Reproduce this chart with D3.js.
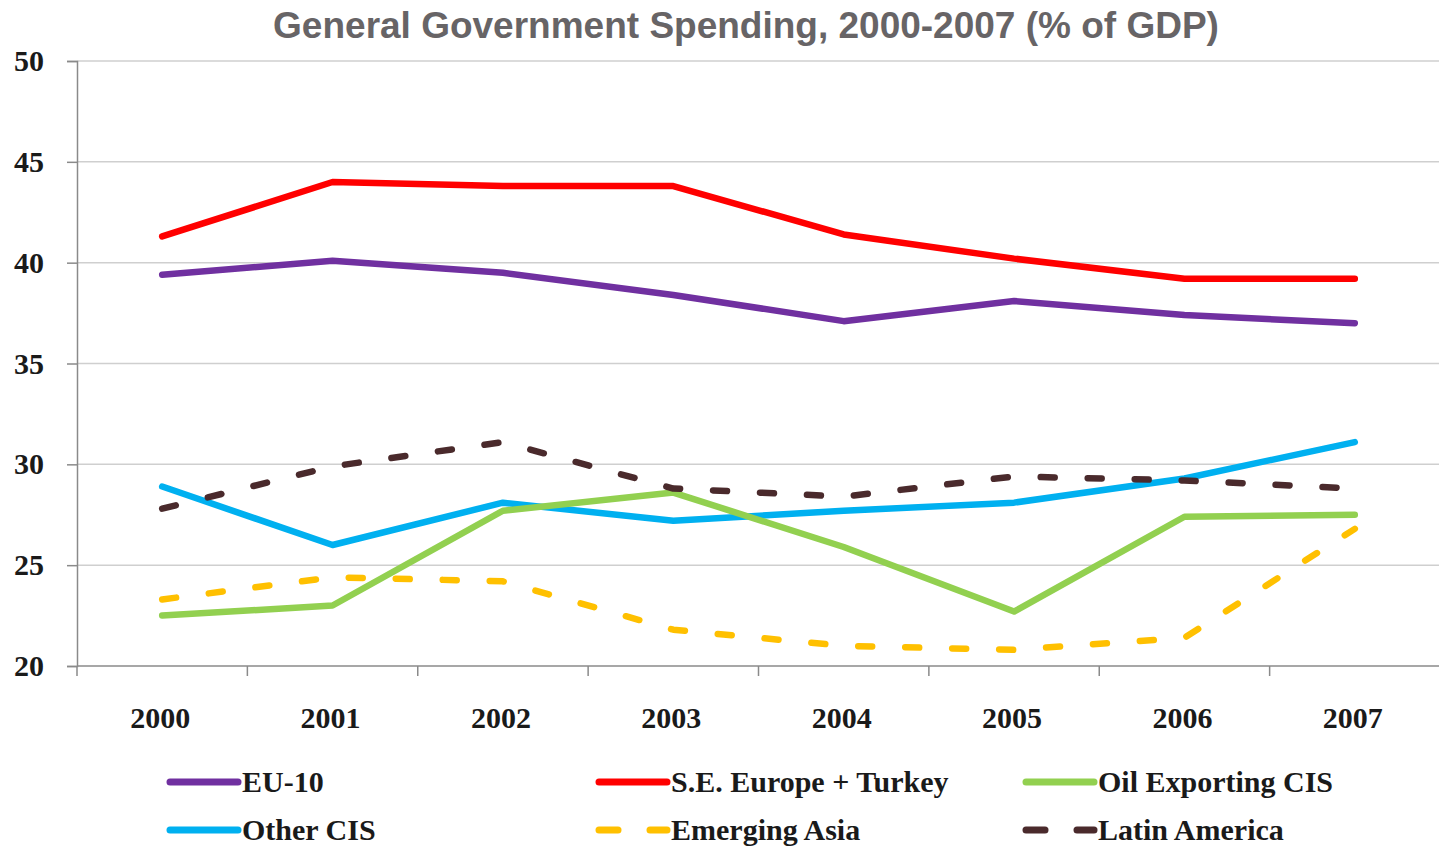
<!DOCTYPE html>
<html>
<head>
<meta charset="utf-8">
<script src="https://cdn.jsdelivr.net/npm/d3@7"></script>
<style>
  html, body { margin: 0; padding: 0; background: #fff; }
  svg { display: block; }
</style>
</head>
<body>
<svg id="chart" width="1439" height="848"></svg>
<script>
// General government spending, % of GDP
const years = ["2000", "2001", "2002", "2003", "2004", "2005", "2006", "2007"];
const yTicks = [20, 25, 30, 35, 40, 45, 50];

const eu10 = [39.4, 40.1, 39.5, 38.4, 37.1, 38.1, 37.4, 37.0];
const seEurope = [41.3, 44.0, 43.8, 43.8, 41.4, 40.2, 39.2, 39.2];
const oilCis = [22.5, 23.0, 27.7, 28.6, 25.9, 22.7, 27.4, 27.5];
const otherCis = [28.9, 26.0, 28.1, 27.2, 27.7, 28.1, 29.3, 31.1];
const emergingAsia = [23.3, 24.4, 24.2, 21.8, 21.0, 20.8, 21.4, 26.8];
const latinAmerica = [27.8, 29.9, 31.1, 28.8, 28.4, 29.4, 29.2, 28.8];

const seriesNames = ["EU-10", "S.E. Europe + Turkey", "Oil Exporting CIS",
                     "Other CIS", "Emerging Asia", "Latin America"];
const seriesValues = [eu10, seEurope, oilCis, otherCis, emergingAsia, latinAmerica];

const styles = [
  { color: "#7030A0", dash: null },
  { color: "#FF0000", dash: null },
  { color: "#92D050", dash: null },
  { color: "#00B0F0", dash: null },
  { color: "#FFC000", dash: "14,33" },
  { color: "#4A2A2C", dash: "14,33" }
];

const svg = d3.select("#chart");
const serif = "'Liberation Serif', 'DejaVu Serif', serif";

const plotLeft = 77, plotRight = 1440, plotTop = 61, plotBottom = 666;

const x = d3.scaleBand().domain(years).range([plotLeft, plotRight]);
const y = d3.scaleLinear().domain([20, 50]).range([plotBottom, plotTop]);

// Title
svg.append("text")
  .attr("x", 746).attr("y", 38)
  .attr("text-anchor", "middle")
  .attr("font-family", "'Liberation Sans', Arial, sans-serif")
  .attr("font-weight", "bold")
  .attr("font-size", 37)
  .attr("fill", "#676466")
  .text("General Government Spending, 2000-2007 (% of GDP)");

// Horizontal gridlines
svg.append("g")
  .selectAll("line")
  .data(yTicks.filter(d => d > 20))
  .join("line")
  .attr("x1", plotLeft).attr("x2", plotRight)
  .attr("y1", d => y(d)).attr("y2", d => y(d))
  .attr("stroke", "#cfcfcf")
  .attr("stroke-width", 1.5);

// Y axis
const yAxis = svg.append("g")
  .attr("transform", `translate(${plotLeft},0)`)
  .call(d3.axisLeft(y).tickValues(yTicks).tickSize(10).tickPadding(23));
yAxis.select(".domain").attr("stroke", "#8a8a8a").attr("stroke-width", 1.5);
yAxis.selectAll(".tick line").attr("stroke", "#8a8a8a").attr("stroke-width", 1.5);
yAxis.selectAll(".tick text")
  .attr("font-family", serif)
  .attr("font-weight", "bold")
  .attr("font-size", 30)
  .attr("fill", "#1a1a1a");

// X axis with ticks at band boundaries
const xAxis = svg.append("g")
  .attr("transform", `translate(0,${plotBottom})`);
xAxis.append("line")
  .attr("x1", plotLeft).attr("x2", plotRight)
  .attr("stroke", "#8a8a8a").attr("stroke-width", 1.5);
const bounds = years.map(d => x(d)).concat([plotRight]);
xAxis.selectAll("line.tk")
  .data(bounds)
  .join("line")
  .attr("class", "tk")
  .attr("x1", d => d).attr("x2", d => d)
  .attr("y1", 0).attr("y2", 10)
  .attr("stroke", "#8a8a8a").attr("stroke-width", 1.5);
xAxis.selectAll("text")
  .data(years)
  .join("text")
  .attr("x", d => x(d) + x.bandwidth() / 2 - 2)
  .attr("y", 62)
  .attr("text-anchor", "middle")
  .attr("font-family", serif)
  .attr("font-weight", "bold")
  .attr("font-size", 30)
  .attr("fill", "#1a1a1a")
  .text(d => d);

// Series lines
const line = d3.line()
  .x((d, i) => x(years[i]) + x.bandwidth() / 2)
  .y(d => y(d));

const order = [3, 2, 4, 5, 0, 1];
svg.append("g")
  .selectAll("path")
  .data(order)
  .join("path")
  .attr("d", i => line(seriesValues[i]))
  .attr("fill", "none")
  .attr("stroke", i => styles[i].color)
  .attr("stroke-width", 6.5)
  .attr("stroke-linecap", "round")
  .attr("stroke-linejoin", "round")
  .attr("stroke-dasharray", i => styles[i].dash);

// Legend
const legendCols = [167, 596, 1023];
const legendRows = [782, 830];
const legend = svg.append("g");
seriesNames.forEach((name, i) => {
  const cx = legendCols[i % 3];
  const cy = legendRows[Math.floor(i / 3)];
  const s = styles[i];
  if (s.dash) {
    legend.append("line")
      .attr("x1", cx + 3).attr("x2", cx + 22)
      .attr("y1", cy).attr("y2", cy)
      .attr("stroke", s.color).attr("stroke-width", 7)
      .attr("stroke-linecap", "round");
    legend.append("line")
      .attr("x1", cx + 54).attr("x2", cx + 71)
      .attr("y1", cy).attr("y2", cy)
      .attr("stroke", s.color).attr("stroke-width", 7)
      .attr("stroke-linecap", "round");
  } else {
    legend.append("line")
      .attr("x1", cx + 3).attr("x2", cx + 71)
      .attr("y1", cy).attr("y2", cy)
      .attr("stroke", s.color).attr("stroke-width", 7)
      .attr("stroke-linecap", "round");
  }
  legend.append("text")
    .attr("x", cx + 75)
    .attr("y", cy + 10)
    .attr("font-family", serif)
    .attr("font-weight", "bold")
    .attr("font-size", 30)
    .attr("fill", "#1a1a1a")
    .text(name);
});
</script>
</body>
</html>
